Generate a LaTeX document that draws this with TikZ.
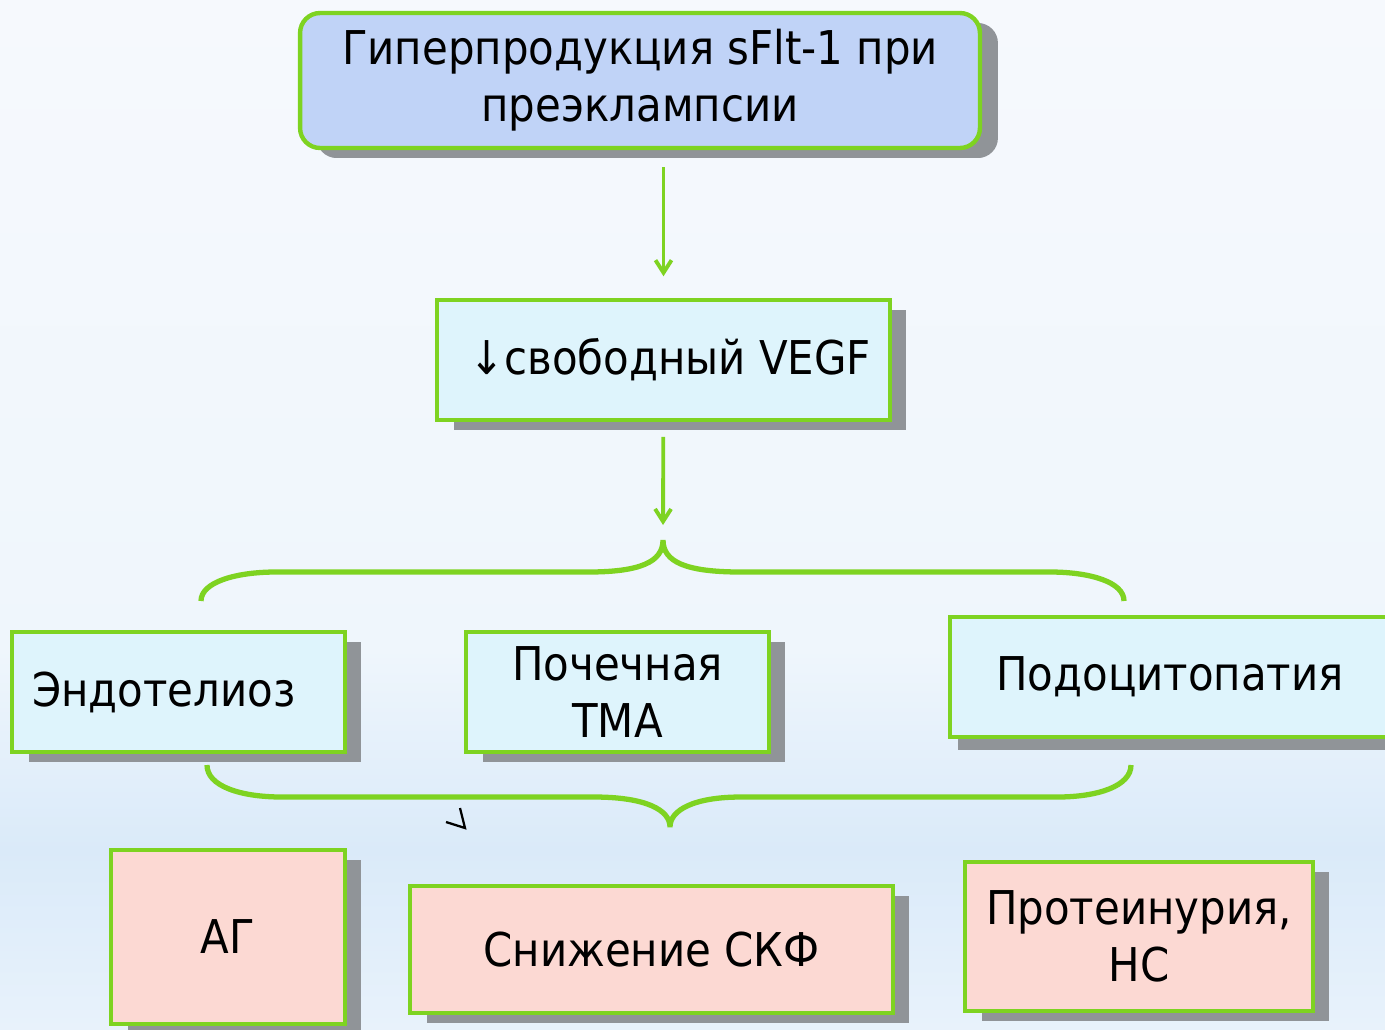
\documentclass[tikz,border=0pt]{standalone}
\usepackage{fontspec}
\setmainfont{DejaVu Sans}[FakeStretch=0.9]
\usetikzlibrary{arrows.meta,shadows}
\definecolor{lgreen}{HTML}{7ED321}
\definecolor{topblue}{HTML}{C0D3F7}
\definecolor{paleblue}{HTML}{DEF4FC}
\definecolor{palepink}{HTML}{FCD9D3}
\definecolor{shadowgray}{HTML}{909498}
\definecolor{bgtop}{HTML}{F6F9FD}
\definecolor{bgmid}{HTML}{EFF6FC}
\definecolor{bgband}{HTML}{DAEAF9}
\definecolor{bgbottom}{HTML}{E8F2FB}
\tikzset{
  box/.style={draw=lgreen, line width=2pt, fill=paleblue, align=center, inner sep=0pt,
    font=\fontsize{26.5}{32.4}\selectfont,
    general shadow={fill=shadowgray, shadow xshift=0.33cm, shadow yshift=-0.2cm}},
  pinkbox/.style={box, fill=palepink},
  link/.style={draw=lgreen, line width=2.2pt, -{Straight Barb[length=0.25cm,width=0.32cm]}},
  brace/.style={draw=lgreen, line width=3pt}
}
\begin{document}
\begin{tikzpicture}[x=0.02cm, y=-0.02cm]
\shade [top color=bgtop, bottom color=bgmid] (0,0) rectangle (1385,650);
\shade [top color=bgmid, bottom color=bgband] (0,649) rectangle (1385,850);
\shade [top color=bgband, bottom color=bgbottom] (0,849) rectangle (1385,1029);
\useasboundingbox (0,0) rectangle (1385,1029);

\node [box, fill=topblue, rounded corners=0.4cm, line width=2.5pt, minimum width=13.6cm, minimum height=2.7cm,
  general shadow={fill=shadowgray, shadow xshift=0.36cm, shadow yshift=-0.2cm}] (cause) at (640,80.5) {Гиперпродукция sFlt-1 при\\преэклампсии};
\node [box, minimum width=9.06cm, minimum height=2.4cm] (vegf) at (663.5,360) {~↓свободный VEGF};

\node [box, text width=5.86cm, inner xsep=0.4cm, align=left, minimum height=2.4cm] (endo) at (178.5,692) {Эндотелиоз};
\node [box, minimum width=6.06cm, minimum height=2.4cm] (tma) at (617.5,692) {Почечная\\ТМА};
\node [box, minimum width=8.8cm, minimum height=2.4cm,
  general shadow={fill=shadowgray, shadow xshift=0.16cm, shadow yshift=-0.26cm}] (podo) at (1170,677) {Подоцитопатия};

\node [pinkbox, minimum width=4.68cm, minimum height=3.48cm] (ag) at (228,937) {АГ};
\node [pinkbox, minimum width=9.66cm, minimum height=2.54cm] (gfr) at (651.5,949.5) {Снижение СКФ};
\node [pinkbox, minimum width=6.96cm, minimum height=2.98cm] (prot) at (1139,936.5) {Протеинурия,\\НС};

\coordinate (split) at (663,540);
\coordinate (join) at (670,827);

\draw [link, shorten <=0.34cm, shorten >=0.44cm] (vegf.north |- cause.south) -- (vegf.north);
\draw [link, shorten <=0.3cm, shorten >=0.3cm] (vegf) -- (split);

\draw [brace] (201,601) .. controls (201,582) and (236,572) .. (276,572) -- (588,572)
  .. controls (640,572) and (663,562) .. (split) .. controls (663,562) and (686,572) .. (741,572)
  -- (1050,572) .. controls (1090,572) and (1124,582) .. (1124,601);
\draw [brace] (207,765) .. controls (207,786) and (240,797) .. (282,797) -- (594,797)
  .. controls (646,797) and (670,810) .. (join) .. controls (670,810) and (694,797) .. (741,797)
  -- (1057,797) .. controls (1098,797) and (1131,786) .. (1131,765);

\draw [line width=1.3pt] (446,822) -- (465,828) -- (460,808);
\end{tikzpicture}
\end{document}
